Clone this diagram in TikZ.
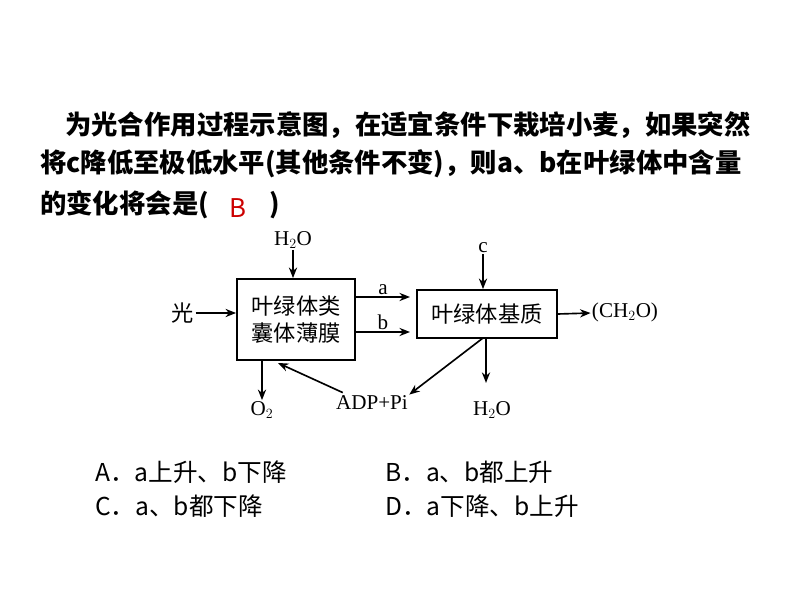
\documentclass[tikz,border=0pt]{standalone}
\usepackage{fontspec}
\setmainfont{Noto Sans CJK SC}
\newfontfamily\labfont{Liberation Serif}
\usetikzlibrary{positioning,arrows.meta}
\tikzset{
    proc/.style={draw, line width=1.6pt, inner sep=0pt, align=center, font=\fontsize{19}{23}\selectfont},
    lab/.style={font=\labfont\fontsize{18}{20}\selectfont, inner sep=1pt},
    flow/.style={-{Stealth[length=9pt,width=7pt]}, line width=1.4pt},
    qline/.style={anchor=west, inner sep=0pt, font=\bfseries\fontsize{22.5}{26}\selectfont},
    opt/.style={anchor=west, inner sep=0pt, font=\fontsize{21}{24}\selectfont}
}
\begin{document}
\begin{tikzpicture}[x=0.03cm, y=-0.03cm]
    \useasboundingbox (0,0) rectangle (800,600);
    % question text
    \node[qline] (q1) at (65,125) {为光合作用过程示意图，在适宜条件下栽培小麦，如果突然};
    \node[qline] (q2) at (40,164) {将c降低至极低水平(其他条件不变)，则a、b在叶绿体中含量};
    \node[qline] (q3) at (40,205) {的变化将会是(\hspace{2.3em})};
    \node[font=\fontsize{22}{24}\selectfont, text=red!80!black] (ans) at (238,208) {B};

    % the two compartments
    \node[proc, minimum width=118*0.03cm, minimum height=81*0.03cm] (thy) at (296,319.5) {叶绿体类\\囊体薄膜};
    \node[proc, minimum width=140*0.03cm, minimum height=48*0.03cm] (str) at (487,314) {叶绿体基质};

    % labels around them
    \node[lab] (h2oin) at (293,240) {H$_2$O};
    \node[lab, font=\fontsize{19}{22}\selectfont] (light) at (183,313) {光};
    \node[lab] (c) at (483,248) {c};
    \node[lab] (ch2o) at (625,312) {(CH$_2$O)};
    \node[lab] (o2) at (262,410) {O$_2$};
    \node[lab] (adp) at (372,403) {ADP+Pi};
    \node[lab] (h2oout) at (492,410) {H$_2$O};
    \coordinate (ain) at (410,297);
    \coordinate (bin) at (410,332);

    % inputs and outputs
    \draw[flow] (h2oin) -- (thy.north -| h2oin);
    \draw[flow] (light) -- (thy.west |- light);
    \draw[flow] (thy.east |- ain) -- node[lab, above] {a} (ain);
    \draw[flow] (thy.east |- bin) -- node[lab, above] {b} (bin);
    \draw[flow] (c) -- (str.north -| c);
    \draw[flow] (str.east) -- (ch2o);
    \draw[flow] (thy.south -| o2) -- (o2);
    \draw[flow] (adp.north west) ++(8,-2) -- (278,363);
    \draw[flow] (483,338) -- (adp.north east);
    \draw[flow] (str.south -| h2oout) ++(-6,0) -- ++(0,44);

    % choices
    \node[opt] (oa) at (95,472) {A．a上升、b下降};
    \node[opt] (ob) at (385,472) {B．a、b都上升};
    \node[opt] (oc) at (95,506) {C．a、b都下降};
    \node[opt] (od) at (385,506) {D．a下降、b上升};
\end{tikzpicture}
\end{document}
